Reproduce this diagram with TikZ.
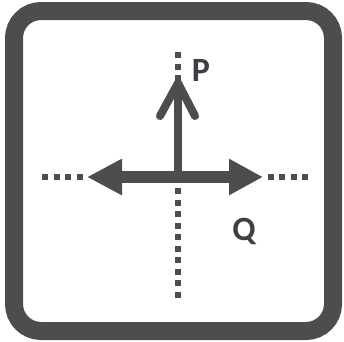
\documentclass[tikz,border=0pt]{standalone}
\usepackage{fontspec}
\setmainfont{Carlito}
\usetikzlibrary{arrows.meta,calc}
\definecolor{ink}{HTML}{4D4D4D}
\definecolor{lab}{HTML}{3E3E44}
\tikzset{
  frame/.style={draw=ink,line width=18pt,rounded corners=27pt},
  dots/.style={draw=ink,line width=5.5pt,dash pattern=on 6pt off 5.5pt},
  shaft/.style={draw=ink,line width=12pt},
  vshaft/.style={draw=ink,line width=7.5pt},
  chev/.style={draw=ink,line width=8pt,line cap=round,line join=round},
  lbl/.style={text=lab,font=\fontsize{34}{34}\selectfont\bfseries,inner sep=0pt}
}
\begin{document}
\begin{tikzpicture}[x=1pt,y=-1pt]
\useasboundingbox (0,0) rectangle (344,341);
\draw[frame] (14,11) rectangle (333,331);
\coordinate (c) at (178,177);
\coordinate (top) at (178,83);
\coordinate (topdot) at (178,52);
\coordinate (L) at (87,177);
\coordinate (R) at (263,177);
\coordinate (Ldot) at (42,177);
\coordinate (Rdot) at (308,177);
\coordinate (bot) at (178,188);
\coordinate (botdot) at (178,298);
% dotted extensions
\draw[dots] (topdot) -- (178,81);
\draw[dots] (Ldot) -- (L);
\draw[dots] (Rdot) -- (R);
\draw[dots] (bot) -- (botdot);
% vertical arrow
\draw[vshaft] (c) -- (top);
\draw[chev] ($(top)+(-18,33)$) -- (top) -- ($(top)+(17,33)$);
% horizontal double arrow
\draw[shaft,{Triangle[length=35pt,width=34pt]}-{Triangle[length=34pt,width=34pt]}] (L) -- (R);
% labels
\node[lbl] (P) at (201,70) {P};
\node[lbl] (Q) at (244,231) {Q};
\end{tikzpicture}
\end{document}
